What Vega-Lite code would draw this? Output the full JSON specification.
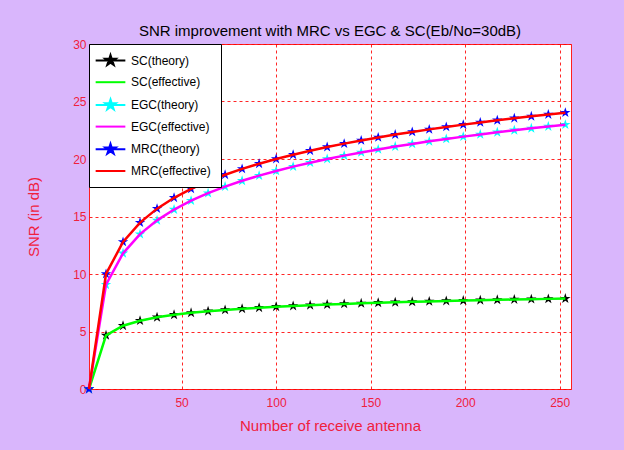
{
  "$schema": "https://vega.github.io/schema/vega-lite/v6.json",
  "width": 482,
  "height": 345,
  "autosize": {"type": "none"},
  "padding": {"left": 89, "top": 44, "right": 53, "bottom": 61},
  "background": "#d9b6fc",
  "title": {
    "text": "SNR improvement with MRC vs EGC & SC(Eb/No=30dB)",
    "font": "Liberation Sans, sans-serif",
    "fontSize": 15,
    "fontWeight": "normal",
    "color": "#000000",
    "offset": -1
  },
  "config": {
    "view": {"fill": "white", "stroke": "#ff2020", "strokeWidth": 1}
  },
  "data": {
    "values": [
      {"n": 1, "s": "SC(theory)", "v": 0}, {"n": 1, "s": "SC(effective)", "v": 0}, {"n": 1, "s": "EGC(theory)", "v": 0}, {"n": 1, "s": "EGC(effective)", "v": 0}, {"n": 1, "s": "MRC(theory)", "v": 0}, {"n": 1, "s": "MRC(effective)", "v": 0},
      {"n": 10, "s": "SC(theory)", "v": 4.667}, {"n": 10, "s": "SC(effective)", "v": 4.667}, {"n": 10, "s": "EGC(theory)", "v": 9.068}, {"n": 10, "s": "EGC(effective)", "v": 9.068}, {"n": 10, "s": "MRC(theory)", "v": 10.0}, {"n": 10, "s": "MRC(effective)", "v": 10.0},
      {"n": 19, "s": "SC(theory)", "v": 5.5}, {"n": 19, "s": "SC(effective)", "v": 5.5}, {"n": 19, "s": "EGC(theory)", "v": 11.8}, {"n": 19, "s": "EGC(effective)", "v": 11.8}, {"n": 19, "s": "MRC(theory)", "v": 12.788}, {"n": 19, "s": "MRC(effective)", "v": 12.788},
      {"n": 28, "s": "SC(theory)", "v": 5.941}, {"n": 28, "s": "SC(effective)", "v": 5.941}, {"n": 28, "s": "EGC(theory)", "v": 13.465}, {"n": 28, "s": "EGC(effective)", "v": 13.465}, {"n": 28, "s": "MRC(theory)", "v": 14.472}, {"n": 28, "s": "MRC(effective)", "v": 14.472},
      {"n": 37, "s": "SC(theory)", "v": 6.234}, {"n": 37, "s": "SC(effective)", "v": 6.234}, {"n": 37, "s": "EGC(theory)", "v": 14.665}, {"n": 37, "s": "EGC(effective)", "v": 14.665}, {"n": 37, "s": "MRC(theory)", "v": 15.682}, {"n": 37, "s": "MRC(effective)", "v": 15.682},
      {"n": 46, "s": "SC(theory)", "v": 6.451}, {"n": 46, "s": "SC(effective)", "v": 6.451}, {"n": 46, "s": "EGC(theory)", "v": 15.604}, {"n": 46, "s": "EGC(effective)", "v": 15.604}, {"n": 46, "s": "MRC(theory)", "v": 16.628}, {"n": 46, "s": "MRC(effective)", "v": 16.628},
      {"n": 55, "s": "SC(theory)", "v": 6.622}, {"n": 55, "s": "SC(effective)", "v": 6.622}, {"n": 55, "s": "EGC(theory)", "v": 16.376}, {"n": 55, "s": "EGC(effective)", "v": 16.376}, {"n": 55, "s": "MRC(theory)", "v": 17.404}, {"n": 55, "s": "MRC(effective)", "v": 17.404},
      {"n": 64, "s": "SC(theory)", "v": 6.761}, {"n": 64, "s": "SC(effective)", "v": 6.761}, {"n": 64, "s": "EGC(theory)", "v": 17.031}, {"n": 64, "s": "EGC(effective)", "v": 17.031}, {"n": 64, "s": "MRC(theory)", "v": 18.062}, {"n": 64, "s": "MRC(effective)", "v": 18.062},
      {"n": 73, "s": "SC(theory)", "v": 6.879}, {"n": 73, "s": "SC(effective)", "v": 6.879}, {"n": 73, "s": "EGC(theory)", "v": 17.6}, {"n": 73, "s": "EGC(effective)", "v": 17.6}, {"n": 73, "s": "MRC(theory)", "v": 18.633}, {"n": 73, "s": "MRC(effective)", "v": 18.633},
      {"n": 82, "s": "SC(theory)", "v": 6.981}, {"n": 82, "s": "SC(effective)", "v": 6.981}, {"n": 82, "s": "EGC(theory)", "v": 18.104}, {"n": 82, "s": "EGC(effective)", "v": 18.104}, {"n": 82, "s": "MRC(theory)", "v": 19.138}, {"n": 82, "s": "MRC(effective)", "v": 19.138},
      {"n": 91, "s": "SC(theory)", "v": 7.07}, {"n": 91, "s": "SC(effective)", "v": 7.07}, {"n": 91, "s": "EGC(theory)", "v": 18.554}, {"n": 91, "s": "EGC(effective)", "v": 18.554}, {"n": 91, "s": "MRC(theory)", "v": 19.59}, {"n": 91, "s": "MRC(effective)", "v": 19.59},
      {"n": 100, "s": "SC(theory)", "v": 7.15}, {"n": 100, "s": "SC(effective)", "v": 7.15}, {"n": 100, "s": "EGC(theory)", "v": 18.963}, {"n": 100, "s": "EGC(effective)", "v": 18.963}, {"n": 100, "s": "MRC(theory)", "v": 20.0}, {"n": 100, "s": "MRC(effective)", "v": 20.0},
      {"n": 109, "s": "SC(theory)", "v": 7.221}, {"n": 109, "s": "SC(effective)", "v": 7.221}, {"n": 109, "s": "EGC(theory)", "v": 19.336}, {"n": 109, "s": "EGC(effective)", "v": 19.336}, {"n": 109, "s": "MRC(theory)", "v": 20.374}, {"n": 109, "s": "MRC(effective)", "v": 20.374},
      {"n": 118, "s": "SC(theory)", "v": 7.285}, {"n": 118, "s": "SC(effective)", "v": 7.285}, {"n": 118, "s": "EGC(theory)", "v": 19.68}, {"n": 118, "s": "EGC(effective)", "v": 19.68}, {"n": 118, "s": "MRC(theory)", "v": 20.719}, {"n": 118, "s": "MRC(effective)", "v": 20.719},
      {"n": 127, "s": "SC(theory)", "v": 7.344}, {"n": 127, "s": "SC(effective)", "v": 7.344}, {"n": 127, "s": "EGC(theory)", "v": 19.998}, {"n": 127, "s": "EGC(effective)", "v": 19.998}, {"n": 127, "s": "MRC(theory)", "v": 21.038}, {"n": 127, "s": "MRC(effective)", "v": 21.038},
      {"n": 136, "s": "SC(theory)", "v": 7.399}, {"n": 136, "s": "SC(effective)", "v": 7.399}, {"n": 136, "s": "EGC(theory)", "v": 20.295}, {"n": 136, "s": "EGC(effective)", "v": 20.295}, {"n": 136, "s": "MRC(theory)", "v": 21.335}, {"n": 136, "s": "MRC(effective)", "v": 21.335},
      {"n": 145, "s": "SC(theory)", "v": 7.449}, {"n": 145, "s": "SC(effective)", "v": 7.449}, {"n": 145, "s": "EGC(theory)", "v": 20.573}, {"n": 145, "s": "EGC(effective)", "v": 20.573}, {"n": 145, "s": "MRC(theory)", "v": 21.614}, {"n": 145, "s": "MRC(effective)", "v": 21.614},
      {"n": 154, "s": "SC(theory)", "v": 7.495}, {"n": 154, "s": "SC(effective)", "v": 7.495}, {"n": 154, "s": "EGC(theory)", "v": 20.834}, {"n": 154, "s": "EGC(effective)", "v": 20.834}, {"n": 154, "s": "MRC(theory)", "v": 21.875}, {"n": 154, "s": "MRC(effective)", "v": 21.875},
      {"n": 163, "s": "SC(theory)", "v": 7.539}, {"n": 163, "s": "SC(effective)", "v": 7.539}, {"n": 163, "s": "EGC(theory)", "v": 21.08}, {"n": 163, "s": "EGC(effective)", "v": 21.08}, {"n": 163, "s": "MRC(theory)", "v": 22.122}, {"n": 163, "s": "MRC(effective)", "v": 22.122},
      {"n": 172, "s": "SC(theory)", "v": 7.58}, {"n": 172, "s": "SC(effective)", "v": 7.58}, {"n": 172, "s": "EGC(theory)", "v": 21.313}, {"n": 172, "s": "EGC(effective)", "v": 21.313}, {"n": 172, "s": "MRC(theory)", "v": 22.355}, {"n": 172, "s": "MRC(effective)", "v": 22.355},
      {"n": 181, "s": "SC(theory)", "v": 7.618}, {"n": 181, "s": "SC(effective)", "v": 7.618}, {"n": 181, "s": "EGC(theory)", "v": 21.534}, {"n": 181, "s": "EGC(effective)", "v": 21.534}, {"n": 181, "s": "MRC(theory)", "v": 22.577}, {"n": 181, "s": "MRC(effective)", "v": 22.577},
      {"n": 190, "s": "SC(theory)", "v": 7.654}, {"n": 190, "s": "SC(effective)", "v": 7.654}, {"n": 190, "s": "EGC(theory)", "v": 21.745}, {"n": 190, "s": "EGC(effective)", "v": 21.745}, {"n": 190, "s": "MRC(theory)", "v": 22.788}, {"n": 190, "s": "MRC(effective)", "v": 22.788},
      {"n": 199, "s": "SC(theory)", "v": 7.689}, {"n": 199, "s": "SC(effective)", "v": 7.689}, {"n": 199, "s": "EGC(theory)", "v": 21.945}, {"n": 199, "s": "EGC(effective)", "v": 21.945}, {"n": 199, "s": "MRC(theory)", "v": 22.989}, {"n": 199, "s": "MRC(effective)", "v": 22.989},
      {"n": 208, "s": "SC(theory)", "v": 7.721}, {"n": 208, "s": "SC(effective)", "v": 7.721}, {"n": 208, "s": "EGC(theory)", "v": 22.137}, {"n": 208, "s": "EGC(effective)", "v": 22.137}, {"n": 208, "s": "MRC(theory)", "v": 23.181}, {"n": 208, "s": "MRC(effective)", "v": 23.181},
      {"n": 217, "s": "SC(theory)", "v": 7.752}, {"n": 217, "s": "SC(effective)", "v": 7.752}, {"n": 217, "s": "EGC(theory)", "v": 22.321}, {"n": 217, "s": "EGC(effective)", "v": 22.321}, {"n": 217, "s": "MRC(theory)", "v": 23.365}, {"n": 217, "s": "MRC(effective)", "v": 23.365},
      {"n": 226, "s": "SC(theory)", "v": 7.782}, {"n": 226, "s": "SC(effective)", "v": 7.782}, {"n": 226, "s": "EGC(theory)", "v": 22.497}, {"n": 226, "s": "EGC(effective)", "v": 22.497}, {"n": 226, "s": "MRC(theory)", "v": 23.541}, {"n": 226, "s": "MRC(effective)", "v": 23.541},
      {"n": 235, "s": "SC(theory)", "v": 7.81}, {"n": 235, "s": "SC(effective)", "v": 7.81}, {"n": 235, "s": "EGC(theory)", "v": 22.667}, {"n": 235, "s": "EGC(effective)", "v": 22.667}, {"n": 235, "s": "MRC(theory)", "v": 23.711}, {"n": 235, "s": "MRC(effective)", "v": 23.711},
      {"n": 244, "s": "SC(theory)", "v": 7.837}, {"n": 244, "s": "SC(effective)", "v": 7.837}, {"n": 244, "s": "EGC(theory)", "v": 22.83}, {"n": 244, "s": "EGC(effective)", "v": 22.83}, {"n": 244, "s": "MRC(theory)", "v": 23.874}, {"n": 244, "s": "MRC(effective)", "v": 23.874},
      {"n": 253, "s": "SC(theory)", "v": 7.862}, {"n": 253, "s": "SC(effective)", "v": 7.862}, {"n": 253, "s": "EGC(theory)", "v": 22.987}, {"n": 253, "s": "EGC(effective)", "v": 22.987}, {"n": 253, "s": "MRC(theory)", "v": 24.031}, {"n": 253, "s": "MRC(effective)", "v": 24.031}
    ]
  },
  "encoding": {
    "x": {
      "field": "n",
      "type": "quantitative",
      "scale": {"domain": [1, 256], "nice": false, "zero": false},
      "axis": {
        "title": "Number of receive antenna",
        "values": [50, 100, 150, 200, 250],
        "grid": true,
        "gridColor": "#ff0000",
        "gridDash": [3, 3],
        "gridWidth": 1,
        "gridOpacity": 0.85,
        "ticks": false,
        "domain": false,
        "labelColor": "#f0203c",
        "labelFont": "Liberation Sans, sans-serif",
        "labelFontSize": 12,
        "labelPadding": 8,
        "titleColor": "#f0203c",
        "titleFont": "Liberation Sans, sans-serif",
        "titleFontSize": 15,
        "titleFontWeight": "normal",
        "titlePadding": 10
      }
    },
    "y": {
      "field": "v",
      "type": "quantitative",
      "scale": {"domain": [0, 30], "nice": false},
      "axis": {
        "title": "SNR (in dB)",
        "values": [0, 5, 10, 15, 20, 25, 30],
        "grid": true,
        "gridColor": "#ff0000",
        "gridDash": [3, 3],
        "gridWidth": 1,
        "gridOpacity": 0.85,
        "ticks": false,
        "domain": false,
        "labelColor": "#f0203c",
        "labelFont": "Liberation Sans, sans-serif",
        "labelFontSize": 12,
        "labelPadding": 3,
        "titleColor": "#f0203c",
        "titleFont": "Liberation Sans, sans-serif",
        "titleFontSize": 15,
        "titleFontWeight": "normal",
        "titlePadding": 31
      }
    },
    "color": {
      "field": "s",
      "type": "nominal",
      "scale": {
        "domain": ["SC(theory)", "SC(effective)", "EGC(theory)", "EGC(effective)", "MRC(theory)", "MRC(effective)"],
        "range": ["#000000", "#00ff00", "#00ffff", "#ff00ff", "#0000ff", "#ff0000"]
      },
      "legend": {
        "title": null,
        "orient": "top-left",
        "offset": 0,
        "padding": 10,
        "fillColor": "white",
        "strokeColor": "black",
        "labelFont": "Liberation Sans, sans-serif",
        "labelFontSize": 12,
        "labelColor": "#000000",
        "rowPadding": 6.7,
        "symbolSize": 121,
        "symbolStrokeWidth": 2,
        "symbolOffset": 5,
        "labelOffset": 14,
        "encode": {
          "symbols": {
            "update": {
              "shape": {"signal": "indexof(datum.value,'theory')>=0 ? 'M-2.7,0L2.7,0M0,-1L0.225,-0.309L0.951,-0.309L0.363,0.118L0.588,0.809L0,0.382L-0.588,0.809L-0.363,0.118L-0.951,-0.309L-0.225,-0.309Z' : 'M-2.7,0L2.7,0'"},
              "fill": {"scale": "color", "field": "value"},
              "stroke": {"scale": "color", "field": "value"}
            }
          }
        }
      }
    }
  },
  "layer": [
    {
      "transform": [{"filter": "indexof(datum.s,'theory')>=0"}],
      "mark": {"type": "line", "strokeWidth": 1}
    },
    {
      "transform": [{"filter": "indexof(datum.s,'theory')>=0"}],
      "mark": {
        "type": "point",
        "shape": "M0,-1L0.225,-0.309L0.951,-0.309L0.363,0.118L0.588,0.809L0,0.382L-0.588,0.809L-0.363,0.118L-0.951,-0.309L-0.225,-0.309Z",
        "filled": true,
        "size": 120,
        "opacity": 1
      }
    },
    {
      "transform": [{"filter": "indexof(datum.s,'effective')>=0"}],
      "mark": {"type": "line", "strokeWidth": 2.5}
    }
  ]
}
